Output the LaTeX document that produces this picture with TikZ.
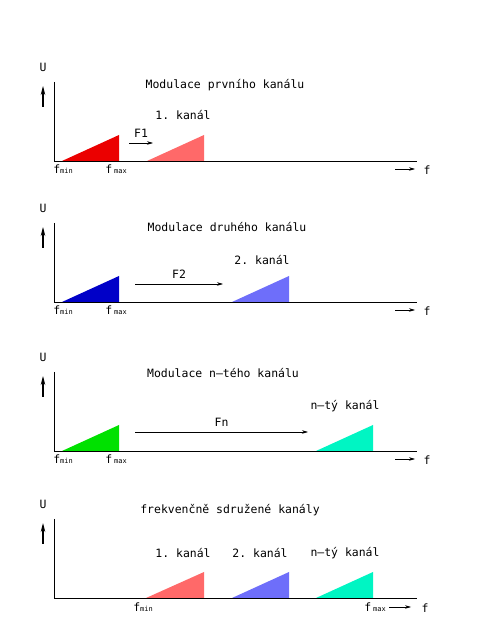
\documentclass[tikz,border=0pt]{standalone}
\usepackage{fontspec}
\setmonofont{DejaVu Sans Mono}
\usetikzlibrary{arrows.meta, positioning, calc}

\definecolor{chred}{RGB}{235,0,0}
\definecolor{chredl}{RGB}{255,105,105}
\definecolor{chblue}{RGB}{0,0,200}
\definecolor{chbluel}{RGB}{110,110,250}
\definecolor{chgreen}{RGB}{0,225,0}
\definecolor{chcyan}{RGB}{0,245,195}

\newcommand{\fsub}[1]{{\fontsize{7}{8}\selectfont #1}}

\begin{document}
\begin{tikzpicture}[x=1bp, y=1bp,
    axis/.style={line width=0.8pt},
    arrow/.style={-{Stealth[length=6pt, width=3.5pt]}, line width=0.6pt},
    uarrow/.style={-{Stealth[length=9pt, width=4.5pt]}, line width=1.1pt},
    label/.style={font=\ttfamily\fontsize{11.5}{13}\selectfont},
    freq/.style={font=\ttfamily\fontsize{11.5}{13}\selectfont, inner sep=1pt}
]
    \useasboundingbox (0,0) rectangle (490,644);

    % --- Panel 1: first channel ---
    \coordinate (o1) at (54,483);
    \draw[axis] ($(o1)+(0,79)$) -- (o1) -- ($(o1)+(363,0)$);
    \node[label] (u1) at ($(o1)+(-11,94)$) {U};
    \draw[uarrow] ($(o1)+(-11,54)$) -- ($(o1)+(-11,75)$);
    \node[label] (t1) at ($(o1)+(171,76)$) {Modulace prvního kanálu};
    \fill[chred] ($(o1)+(8,0)$) -- ($(o1)+(65,0)$) -- ($(o1)+(65,26)$) -- cycle;
    \fill[chredl] ($(o1)+(93,0)$) -- ($(o1)+(150,0)$) -- ($(o1)+(150,26)$) -- cycle;
    \node[label] (k1) at ($(o1)+(129,46)$) {1. kanál};
    \coordinate (s1) at ($(o1)+(75,18)$);
    \coordinate (e1) at ($(o1)+(99,18)$);
    \draw[arrow] (s1) -- (e1) node[midway, above, label, yshift=2] (F1) {F1};
    \node[freq] (fmin1) at ($(o1)+(9,-8)$) {f\fsub{min}};
    \node[freq] (fmax1) at ($(o1)+(62,-8)$) {f\,\fsub{max}};
    \coordinate (a1) at ($(o1)+(341,-8)$);
    \coordinate (b1) at ($(o1)+(361,-8)$);
    \draw[arrow] (a1) -- (b1);
    \node[label] (f1) at ($(o1)+(373,-9)$) {f};

    % --- Panel 2: second channel ---
    \coordinate (o2) at (54,342);
    \draw[axis] ($(o2)+(0,79)$) -- (o2) -- ($(o2)+(363,0)$);
    \node[label] (u2) at ($(o2)+(-11,94)$) {U};
    \draw[uarrow] ($(o2)+(-11,54)$) -- ($(o2)+(-11,75)$);
    \node[label] (t2) at ($(o2)+(173,75)$) {Modulace druhého kanálu};
    \fill[chblue] ($(o2)+(8,0)$) -- ($(o2)+(65,0)$) -- ($(o2)+(65,26)$) -- cycle;
    \fill[chbluel] ($(o2)+(178,0)$) -- ($(o2)+(235,0)$) -- ($(o2)+(235,26)$) -- cycle;
    \node[label] (k2) at ($(o2)+(208,42)$) {2. kanál};
    \coordinate (s2) at ($(o2)+(81,18)$);
    \coordinate (e2) at ($(o2)+(169,18)$);
    \draw[arrow] (s2) -- (e2) node[midway, above, label, yshift=2] (F2) {F2};
    \node[freq] (fmin2) at ($(o2)+(9,-8)$) {f\fsub{min}};
    \node[freq] (fmax2) at ($(o2)+(62,-8)$) {f\,\fsub{max}};
    \coordinate (a2) at ($(o2)+(341,-8)$);
    \coordinate (b2) at ($(o2)+(361,-8)$);
    \draw[arrow] (a2) -- (b2);
    \node[label] (f2) at ($(o2)+(373,-9)$) {f};

    % --- Panel 3: n-th channel ---
    \coordinate (o3) at (54,193);
    \draw[axis] ($(o3)+(0,79)$) -- (o3) -- ($(o3)+(363,0)$);
    \node[label] (u3) at ($(o3)+(-11,94)$) {U};
    \draw[uarrow] ($(o3)+(-11,54)$) -- ($(o3)+(-11,75)$);
    \node[label] (t3) at ($(o3)+(169,78)$) {Modulace n–tého kanálu};
    \fill[chgreen] ($(o3)+(8,0)$) -- ($(o3)+(65,0)$) -- ($(o3)+(65,26)$) -- cycle;
    \fill[chcyan] ($(o3)+(262,0)$) -- ($(o3)+(319,0)$) -- ($(o3)+(319,26)$) -- cycle;
    \node[label] (k3) at ($(o3)+(291,45)$) {n–tý kanál};
    \coordinate (s3) at ($(o3)+(81,19)$);
    \coordinate (e3) at ($(o3)+(254,19)$);
    \draw[arrow] (s3) -- (e3) node[midway, above, label, yshift=2] (Fn) {Fn};
    \node[freq] (fmin3) at ($(o3)+(9,-8)$) {f\fsub{min}};
    \node[freq] (fmax3) at ($(o3)+(62,-8)$) {f\,\fsub{max}};
    \coordinate (a3) at ($(o3)+(341,-8)$);
    \coordinate (b3) at ($(o3)+(361,-8)$);
    \draw[arrow] (a3) -- (b3);
    \node[label] (f3) at ($(o3)+(373,-9)$) {f};

    % --- Panel 4: all channels together ---
    \coordinate (o4) at (54,46);
    \draw[axis] ($(o4)+(0,79)$) -- (o4) -- ($(o4)+(363,0)$);
    \node[label] (u4) at ($(o4)+(-11,94)$) {U};
    \draw[uarrow] ($(o4)+(-11,54)$) -- ($(o4)+(-11,75)$);
    \node[label] (t4) at ($(o4)+(176,88)$) {frekvenčně sdružené kanály};
    \fill[chredl] ($(o4)+(92,0)$) -- ($(o4)+(150,0)$) -- ($(o4)+(150,26)$) -- cycle;
    \fill[chbluel] ($(o4)+(178,0)$) -- ($(o4)+(235,0)$) -- ($(o4)+(235,26)$) -- cycle;
    \fill[chcyan] ($(o4)+(262,0)$) -- ($(o4)+(319,0)$) -- ($(o4)+(319,26)$) -- cycle;
    \node[label] (k41) at ($(o4)+(129,45)$) {1. kanál};
    \node[label] (k42) at ($(o4)+(206,45)$) {2. kanál};
    \node[label] (k4n) at ($(o4)+(291,45)$) {n–tý kanál};
    \node[freq] (fmin4) at ($(o4)+(89,-9)$) {f\fsub{min}};
    \node[freq] (fmax4) at ($(o4)+(321,-9)$) {f\,\fsub{max}};
    \coordinate (a4) at ($(o4)+(335,-9)$);
    \coordinate (b4) at ($(o4)+(357,-9)$);
    \draw[arrow] (a4) -- (b4);
    \node[label] (f4) at ($(o4)+(371,-10)$) {f};

\end{tikzpicture}
\end{document}
